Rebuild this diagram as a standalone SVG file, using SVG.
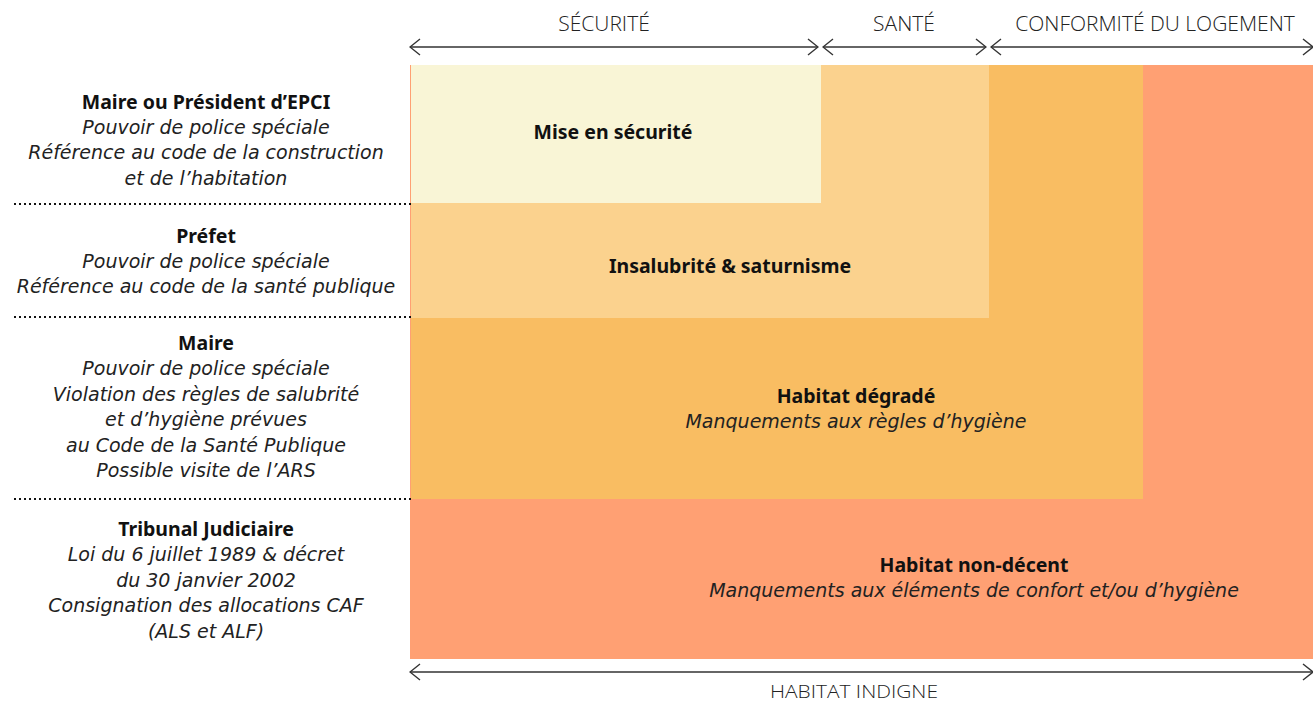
<svg xmlns="http://www.w3.org/2000/svg" width="1313" height="703" viewBox="0 0 1313 703">
  <defs>
    <marker id="chev" viewBox="0 0 12 18" refX="11" refY="9" markerWidth="12" markerHeight="18" markerUnits="userSpaceOnUse" orient="auto-start-reverse">
      <path d="M1,1 L11,9 L1,17" fill="none" stroke="#333" stroke-width="1.4"/>
    </marker>
  </defs>
  <style>
    .head { font-family: "Open Sans", "Noto Sans", sans-serif; font-size: 21px; font-weight: 300; fill: #222; text-anchor: middle; }
    .foot { font-family: "Open Sans", "Noto Sans", sans-serif; font-size: 18px; font-weight: 300; fill: #222; text-anchor: middle; }
    .t { font-family: "Noto Sans", "Open Sans", sans-serif; font-size: 19.5px; fill: #111; text-anchor: middle; }
    .b { font-weight: 700; }
    .i { font-family: "DejaVu Sans", "Noto Sans", sans-serif; font-size: 19px; font-style: italic; fill: #222; }
    .dim { stroke: #333; stroke-width: 1.4; fill: none; marker-start: url(#chev); marker-end: url(#chev); }
    .sep { stroke: #111; stroke-width: 2; stroke-dasharray: 2 3; fill: none; }
  </style>

  <rect width="1313" height="703" fill="#ffffff"/>

  <!-- nested zones -->
  <g id="habitat-non-decent">
    <rect x="410" y="65" width="903" height="594" fill="#FFA073"/>
    <text class="t b" x="974" y="572">Habitat non-décent</text>
    <text class="t i" x="974" y="597">Manquements aux éléments de confort et/ou d’hygiène</text>
  </g>
  <g id="habitat-degrade">
    <rect x="411" y="65" width="732" height="434" fill="#F9BD62"/>
    <text class="t b" x="856" y="403">Habitat dégradé</text>
    <text class="t i" x="856" y="428">Manquements aux règles d’hygiène</text>
  </g>
  <g id="insalubrite">
    <rect x="411" y="65" width="578" height="253" fill="#FBD28E"/>
    <text class="t b" x="730" y="273">Insalubrité &amp; saturnisme</text>
  </g>
  <g id="mise-en-securite">
    <rect x="411" y="65" width="410" height="138" fill="#F9F5D6"/>
    <text class="t b" x="613" y="139">Mise en sécurité</text>
  </g>

  <!-- authorities -->
  <g id="autorite-maire-epci">
    <text class="t b" x="206" y="109">Maire ou Président d’EPCI</text>
    <text class="t i" x="206" y="134">Pouvoir de police spéciale</text>
    <text class="t i" x="206" y="159">Référence au code de la construction</text>
    <text class="t i" x="206" y="185">et de l’habitation</text>
  </g>
  <g id="autorite-prefet">
    <text class="t b" x="206" y="243">Préfet</text>
    <text class="t i" x="206" y="268">Pouvoir de police spéciale</text>
    <text class="t i" x="206" y="293">Référence au code de la santé publique</text>
  </g>
  <g id="autorite-maire">
    <text class="t b" x="206" y="350">Maire</text>
    <text class="t i" x="206" y="375">Pouvoir de police spéciale</text>
    <text class="t i" x="206" y="401">Violation des règles de salubrité</text>
    <text class="t i" x="206" y="426">et d’hygiène prévues</text>
    <text class="t i" x="206" y="452">au Code de la Santé Publique</text>
    <text class="t i" x="206" y="477">Possible visite de l’ARS</text>
  </g>
  <g id="autorite-tribunal">
    <text class="t b" x="206" y="536">Tribunal Judiciaire</text>
    <text class="t i" x="206" y="561">Loi du 6 juillet 1989 &amp; décret</text>
    <text class="t i" x="206" y="587">du 30 janvier 2002</text>
    <text class="t i" x="206" y="612">Consignation des allocations CAF</text>
    <text class="t i" x="206" y="638">(ALS et ALF)</text>
  </g>

  <!-- separators and range arrows -->
  <g id="connectors">
    <line class="sep" x1="14" y1="204" x2="412" y2="204"/>
    <line class="sep" x1="14" y1="317" x2="412" y2="317"/>
    <line class="sep" x1="14" y1="499" x2="412" y2="499"/>
    <line class="dim" x1="410" y1="47" x2="818" y2="47"/>
    <line class="dim" x1="823" y1="47" x2="986" y2="47"/>
    <line class="dim" x1="991" y1="47" x2="1313" y2="47"/>
    <line class="dim" x1="410" y1="672" x2="1313" y2="672"/>
  </g>

  <g id="ranges">
    <text class="head" x="604" y="31">SÉCURITÉ</text>
    <text class="head" x="904" y="31">SANTÉ</text>
    <text class="head" x="1155" y="31">CONFORMITÉ DU LOGEMENT</text>
    <text class="foot" x="854" y="698" textLength="168" lengthAdjust="spacingAndGlyphs">HABITAT INDIGNE</text>
  </g>
</svg>
